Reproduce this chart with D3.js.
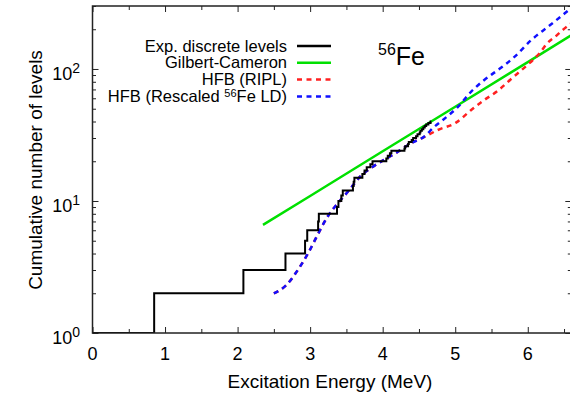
<!DOCTYPE html>
<html>
<head>
<meta charset="utf-8">
<script src="https://cdn.jsdelivr.net/npm/d3@7"></script>
<style>
  body { margin: 0; background: #fff; }
  text { font-family: "Liberation Sans", Arial, Helvetica, sans-serif; fill: #000; }
</style>
</head>
<body>
<div id="chart"></div>
<script>
// discrete levels of 56Fe (MeV) and running count
const levelEnergies = [0, 0.85, 2.08, 2.66, 2.93, 2.96, 3.11, 3.12, 3.37, 3.39, 3.43, 3.45,
    3.59, 3.60, 3.61, 3.72, 3.75, 3.78, 3.83, 3.86, 4.05, 4.07, 4.10, 4.12, 4.30, 4.31,
    4.35, 4.36, 4.40, 4.42, 4.46, 4.48, 4.51, 4.52, 4.54, 4.56, 4.58, 4.60, 4.63, 4.66, 4.67];
const levelCounts = [1, 2, 3, 4, 5, 6, 7, 8, 9, 10, 11, 12, 13, 14, 15, 16, 17, 18, 19, 20,
    21, 22, 23, 24, 25, 26, 27, 28, 29, 30, 31, 32, 33, 34, 35, 36, 37, 38, 39, 40, 40];

const gcEnergies = [2.35, 3, 4, 5, 6, 6.6];
const gcCounts = [6.6, 10.9, 23.8, 51.8, 112.7, 180];

const ripEnergies = [2.50, 2.67, 2.83, 2.97, 3.10, 3.24, 3.38, 3.54, 3.67, 3.84, 4.02, 4.21,
    4.39, 4.57, 4.76, 5.01, 5.22, 5.40, 5.59, 5.77, 5.95, 6.07, 6.17, 6.26, 6.38, 6.47, 6.60];
const ripCounts = [2.0, 2.3, 3.0, 4.0, 5.5, 7.6, 9.6, 12.1, 14.9, 17.8, 20.5, 23.6,
    27.4, 30.5, 34.5, 39.2, 48.9, 58.2, 68.5, 84, 102, 117, 133, 155, 176, 195, 222];

const resEnergies = [2.50, 2.67, 2.83, 2.97, 3.10, 3.24, 3.38, 3.54, 3.67, 3.84, 4.02, 4.21,
    4.39, 4.57, 4.71, 4.83, 5.04, 5.22, 5.40, 5.59, 5.82, 6.05, 6.28, 6.51, 6.60];
const resCounts = [2.0, 2.3, 3.0, 4.0, 5.5, 7.6, 9.6, 12.1, 14.9, 17.8, 20.5, 23.6,
    27.4, 30.7, 36.4, 41.1, 51.8, 67.3, 82.6, 98.3, 124, 166, 209, 264, 290];

const xTicks = [0, 1, 2, 3, 4, 5, 6];
const xMinorTicks = [0.5, 1.5, 2.5, 3.5, 4.5, 5.5, 6.5];
const yTicks = [1, 10, 100];
const yExponents = ["0", "1", "2"];
const yMinorTicks = [2, 3, 4, 5, 6, 7, 8, 9, 20, 30, 40, 50, 60, 70, 80, 90, 200, 300];

const svg = d3.select("#chart")
    .append("svg")
    .attr("width", 570)
    .attr("height", 394);

const x = d3.scaleLinear().domain([0, 6.6]).range([92.5, 571.3]);
const y = d3.scaleLog().domain([1, 300]).range([333, 6]);

const plotLeft = x.range()[0], plotRight = x.range()[1];
const plotTop = y.range()[1], plotBottom = y.range()[0];

svg.append("clipPath")
    .attr("id", "plot")
    .append("rect")
    .attr("x", plotLeft).attr("y", plotTop)
    .attr("width", plotRight - plotLeft).attr("height", plotBottom - plotTop);

// ticks, all pointing inward
const tickGroup = (axis, tx, ty) => {
    const g = svg.append("g")
        .attr("transform", `translate(${tx},${ty})`)
        .call(axis);
    g.select(".domain").remove();
    g.selectAll("line").attr("stroke", "#222").attr("stroke-width", 1);
    return g;
};

tickGroup(d3.axisBottom(x).tickValues(xTicks).tickSize(-6).tickFormat(""), 0, plotBottom);
tickGroup(d3.axisBottom(x).tickValues(xMinorTicks).tickSize(-4).tickFormat(""), 0, plotBottom);
tickGroup(d3.axisTop(x).tickValues(xTicks).tickSize(-6).tickFormat(""), 0, plotTop);
tickGroup(d3.axisTop(x).tickValues(xMinorTicks).tickSize(-4).tickFormat(""), 0, plotTop);
tickGroup(d3.axisLeft(y).tickValues(yTicks).tickSize(-6).tickFormat(""), plotLeft, 0);
tickGroup(d3.axisLeft(y).tickValues(yMinorTicks).tickSize(-3.5).tickFormat(""), plotLeft, 0);
tickGroup(d3.axisRight(y).tickValues(yTicks).tickSize(-6).tickFormat(""), plotRight, 0);
tickGroup(d3.axisRight(y).tickValues(yMinorTicks).tickSize(-3.5).tickFormat(""), plotRight, 0);

// x tick labels
svg.append("g")
    .selectAll("text")
    .data(xTicks)
    .join("text")
    .attr("x", d => x(d))
    .attr("y", plotBottom + 26.5)
    .attr("text-anchor", "middle")
    .attr("font-size", 18)
    .text(d => d);

// y tick labels 10^n
const yLabels = svg.append("g")
    .selectAll("text")
    .data(yTicks)
    .join("text")
    .attr("x", 80)
    .attr("y", d => y(d) + 11)
    .attr("text-anchor", "end")
    .attr("font-size", 18);
yLabels.append("tspan").text("10");
yLabels.append("tspan")
    .attr("dy", -7)
    .attr("font-size", 14)
    .text((d, i) => yExponents[i]);

// axis titles
svg.append("text")
    .attr("x", 330)
    .attr("y", 388)
    .attr("text-anchor", "middle")
    .attr("font-size", 19)
    .text("Excitation Energy (MeV)");

svg.append("text")
    .attr("transform", "translate(42,170) rotate(-90)")
    .attr("text-anchor", "middle")
    .attr("font-size", 19)
    .text("Cumulative number of levels");

// curves
const plot = svg.append("g").attr("clip-path", "url(#plot)");

const line = d3.line()
    .x(d => x(d[0]))
    .y(d => y(d[1]));

const series = [
    { e: gcEnergies, n: gcCounts, color: "#00e000", width: 2.5, dash: null, curve: d3.curveLinear },
    { e: ripEnergies, n: ripCounts, color: "#ff2020", width: 2.5, dash: "5,4.5", curve: d3.curveMonotoneX },
    { e: resEnergies, n: resCounts, color: "#1010ff", width: 2.5, dash: "5,4.5", curve: d3.curveMonotoneX },
    { e: levelEnergies, n: levelCounts, color: "#000", width: 2, dash: null, curve: d3.curveStepAfter }
];

series.forEach(s => {
    plot.append("path")
        .datum(d3.zip(s.e, s.n))
        .attr("fill", "none")
        .attr("stroke", s.color)
        .attr("stroke-width", s.width)
        .attr("stroke-dasharray", s.dash)
        .attr("d", line.curve(s.curve));
});

// frame
svg.append("rect")
    .attr("x", plotLeft).attr("y", plotTop)
    .attr("width", plotRight - plotLeft).attr("height", plotBottom - plotTop)
    .attr("fill", "none")
    .attr("stroke", "#222")
    .attr("stroke-width", 1.5);

// legend
const legendItems = [
    { parts: [["Exp. discrete levels", false]], color: "#000", dash: null },
    { parts: [["Gilbert-Cameron", false]], color: "#00e000", dash: null },
    { parts: [["HFB (RIPL)", false]], color: "#ff2020", dash: "5,4.5" },
    { parts: [["HFB (Rescaled ", false], ["56", true], ["Fe LD)", false]], color: "#1010ff", dash: "5,4.5" }
];

legendItems.forEach((item, i) => {
    const base = 51.5 + i * 16.8;
    const t = svg.append("text")
        .attr("x", 287)
        .attr("y", base)
        .attr("text-anchor", "end")
        .attr("font-size", 16.5);
    let up = false;
    item.parts.forEach(([str, sup]) => {
        const span = t.append("tspan").text(str);
        if (sup && !up) { span.attr("dy", -5).attr("font-size", 11); up = true; }
        else if (!sup && up) { span.attr("dy", 5); up = false; }
    });
    svg.append("line")
        .attr("x1", 297).attr("x2", 331)
        .attr("y1", base - 5.5).attr("y2", base - 5.5)
        .attr("stroke", item.color)
        .attr("stroke-width", 2.5)
        .attr("stroke-dasharray", item.dash);
});

// isotope tag
const tag = svg.append("text")
    .attr("x", 378)
    .attr("y", 65);
tag.append("tspan").attr("font-size", 16).attr("dy", -10).text("56");
tag.append("tspan").attr("font-size", 25).attr("dy", 10).text("Fe");
</script>
</body>
</html>
